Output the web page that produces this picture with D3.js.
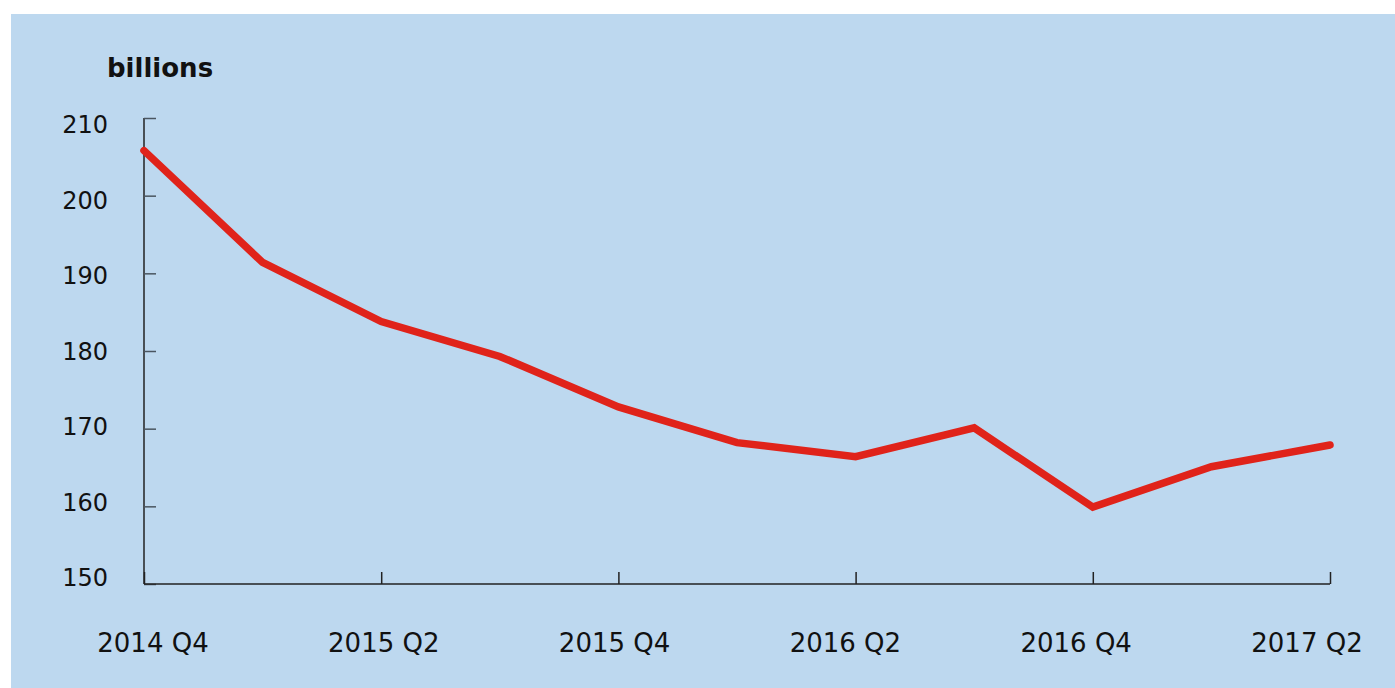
<!DOCTYPE html>
<html>
<head>
<meta charset="utf-8">
<script src="https://cdn.jsdelivr.net/npm/d3@7"></script>
<style>
  body { margin: 0; background: #ffffff; }
  svg { display: block; }
  text { font-family: "DejaVu Sans", sans-serif; fill: #111; }
</style>
</head>
<body>
<div id="chart"></div>
<script>
// quarters on the x axis
var quarters = ["2014 Q4", "2015 Q1", "2015 Q2", "2015 Q3", "2015 Q4", "2016 Q1",
                "2016 Q2", "2016 Q3", "2016 Q4", "2017 Q1", "2017 Q2"];
// values in billions
var values = [205.8, 191.4, 183.8, 179.3, 172.8, 168.2, 166.4, 170.1, 159.9, 165.1, 167.9];
// labelled quarters
var xTickLabels = ["2014 Q4", "2015 Q2", "2015 Q4", "2016 Q2", "2016 Q4", "2017 Q2"];
var yTicks = [150, 160, 170, 180, 190, 200, 210];

var W = 1395, H = 688;

var svg = d3.select("#chart").append("svg")
    .attr("width", W)
    .attr("height", H);

// light blue panel
svg.append("rect")
    .attr("x", 11).attr("y", 14)
    .attr("width", W - 11).attr("height", H - 14)
    .attr("fill", "#bdd8ef");

var x = d3.scalePoint().domain(quarters).range([144, 1330]);
var y = d3.scaleLinear().domain([150, 210]).range([584, 118]);

// label positions in the original are spread a bit differently from the ticks
var xLab = d3.scalePoint().domain(xTickLabels).range([153, 1307]);
var yLab = d3.scaleLinear().domain([150, 210]).range([586, 133]);

// y axis
var yAxis = svg.append("g")
    .attr("transform", "translate(144,0)")
    .call(d3.axisRight(y).tickValues(yTicks).tickSize(12).tickFormat(""));
yAxis.select(".domain").attr("stroke", "#222").attr("stroke-width", 1.5)
    .attr("d", "M0," + y(210) + "V" + y(150));
yAxis.selectAll(".tick line").attr("stroke", "#4a5560").attr("stroke-width", 1.5);

// x axis
var xAxis = svg.append("g")
    .attr("transform", "translate(0,584)")
    .call(d3.axisTop(x).tickValues(xTickLabels).tickSize(12).tickFormat(""));
xAxis.select(".domain").attr("stroke", "#222").attr("stroke-width", 1.5)
    .attr("d", "M144,0H1330");
xAxis.selectAll(".tick line").attr("stroke", "#222").attr("stroke-width", 1.5);

// tick labels
svg.append("g").selectAll("text")
    .data(yTicks)
    .enter().append("text")
    .attr("x", 108)
    .attr("y", function (d) { return yLab(d); })
    .attr("text-anchor", "end")
    .attr("font-size", 24)
    .text(function (d) { return d; });

svg.append("g").selectAll("text")
    .data(xTickLabels)
    .enter().append("text")
    .attr("x", function (d) { return xLab(d); })
    .attr("y", 652)
    .attr("text-anchor", "middle")
    .attr("font-size", 26)
    .text(function (d) { return d; });

// unit title
svg.append("text")
    .attr("x", 107).attr("y", 77)
    .attr("font-size", 26)
    .attr("font-weight", "bold")
    .text("billions");

// the line
var line = d3.line()
    .x(function (d, i) { return x(quarters[i]); })
    .y(function (d) { return y(d); });

svg.append("path")
    .datum(values)
    .attr("d", line)
    .attr("fill", "none")
    .attr("stroke", "#e0231a")
    .attr("stroke-width", 7.5)
    .attr("stroke-linecap", "round")
    .attr("stroke-linejoin", "miter");
</script>
</body>
</html>
